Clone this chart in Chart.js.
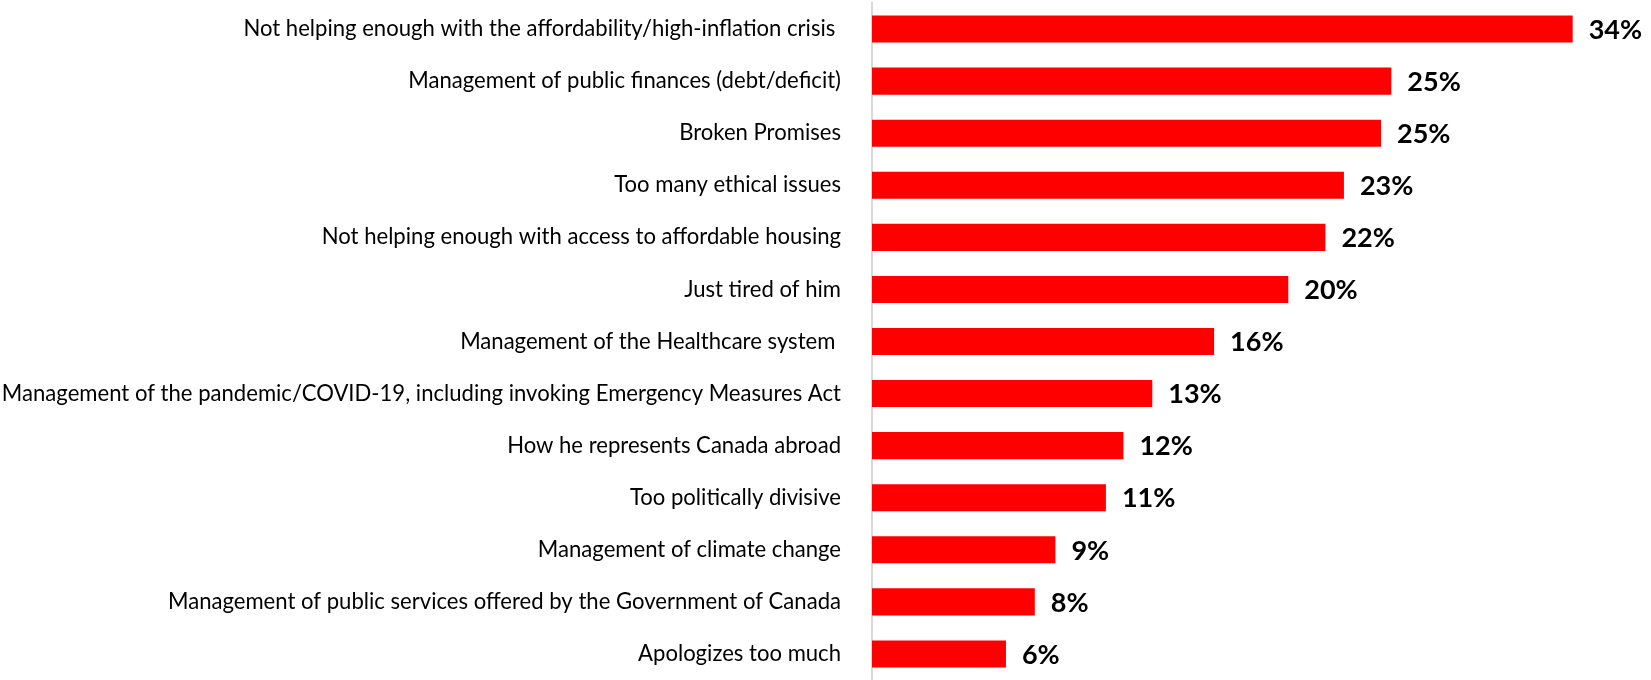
<!DOCTYPE html>
<html>
<head>
<meta charset="utf-8">
<script src="https://cdn.jsdelivr.net/npm/chart.js@4"></script>
<style>
  html, body { margin: 0; padding: 0; background: #fff; }
  #wrap { width: 1651px; height: 680px; position: relative; }
</style>
</head>
<body>
<div id="wrap"><canvas id="reasonsCanvas" width="1651" height="680"></canvas></div>
<script>
var categories = [
  "Not helping enough with the affordability/high-inflation crisis ",
  "Management of public finances (debt/deficit)",
  "Broken Promises",
  "Too many ethical issues",
  "Not helping enough with access to affordable housing",
  "Just tired of him",
  "Management of the Healthcare system ",
  "Management of the pandemic/COVID-19, including invoking Emergency Measures Act",
  "How he represents Canada abroad",
  "Too politically divisive",
  "Management of climate change",
  "Management of public services offered by the Government of Canada",
  "Apologizes too much"
];

var values = [34.0, 25.2, 24.7, 22.9, 22.0, 20.2, 16.6, 13.6, 12.2, 11.35, 8.9, 7.9, 6.5];

var valueLabels = ["34%", "25%", "25%", "23%", "22%", "20%", "16%", "13%", "12%", "11%", "9%", "8%", "6%"];

document.addEventListener("DOMContentLoaded", function () {
  var ctx = document.getElementById("reasonsCanvas").getContext("2d");

  // fit label font so the longest category is about 840px wide
  var longest = categories[7];
  ctx.font = "22px Lato";
  var w = ctx.measureText(longest).width;
  var labelSize = Math.round(22 * 840 / w * 10) / 10;

  var valueLabelPlugin = {
    id: "valueLabels",
    afterDatasetsDraw: function (chart) {
      var c = chart.ctx;
      var meta = chart.getDatasetMeta(0);
      c.save();
      c.font = "bold 27px Lato";
      c.fillStyle = "#000";
      c.textBaseline = "middle";
      c.textAlign = "left";
      meta.data.forEach(function (bar, i) {
        c.fillText(valueLabels[i], bar.x + 16, bar.y + 1);
      });
      c.restore();
    }
  };

  new Chart(ctx, {
    type: "bar",
    data: {
      labels: categories,
      datasets: [
        {
          data: values,
          backgroundColor: "#ff0000",
          borderWidth: 0,
          categoryPercentage: 1,
          barPercentage: 0.52
        }
      ]
    },
    options: {
      indexAxis: "y",
      responsive: false,
      animation: false,
      layout: { padding: { top: 3, right: 0, bottom: -5, left: 0 } },
      plugins: {
        legend: { display: false },
        tooltip: { enabled: false }
      },
      scales: {
        x: {
          display: false,
          min: 0,
          max: 37.8
        },
        y: {
          afterFit: function (scale) {
            scale.width = 872;
            scale.paddingTop = 0;
            scale.paddingBottom = 0;
          },
          grid: { display: false },
          border: { display: true, color: "#d9d9d9", width: 2 },
          ticks: {
            padding: 23,
            color: "#000",
            font: { family: "Lato", size: labelSize }
          }
        }
      }
    },
    plugins: [valueLabelPlugin]
  });
});
</script>
</body>
</html>
